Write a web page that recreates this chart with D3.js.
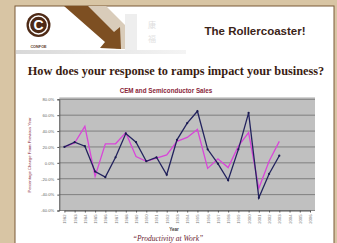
<!DOCTYPE html>
<meta charset="utf-8">
<script src="https://cdn.jsdelivr.net/npm/d3@7"></script>
<style>
  body { margin: 0; background: #d8c5a4; }
  svg { display: block; }
</style>
<div id="chart"></div>
<script>
// data
var years = ["1982","1983","1984","1985","1986","1987","1988","1989","1990","1991","1992","1993",
             "1994","1995","1996","1997","1998","1999","2000","2001","2002","2003","2004","2005","2006"];
var cemSales = [20, 26, 21, -11, -18, 7, 37, 26, 2, 7, -15, 29, 50, 65, 17, -1, -22, 17, 63, -44, -14, 9];
var semiSales = [20, 25, 46, -17, 24, 24, 38, 8, 2, 6, 10, 27, 32, 42, -7, 5, -6, 21, 38, -32, 2, 27];
var yTicks = [80, 60, 40, 20, 0, -20, -40, -60];

var W = 337, H = 243;
var svg = d3.select("#chart").append("svg").attr("width", W).attr("height", H);

// slide panel
svg.append("rect").attr("x", 15).attr("y", 6).attr("width", 319).attr("height", 250)
  .attr("fill", "#fff").attr("stroke", "#7a5a36").attr("stroke-width", 1);

// header decoration
var hdr = svg.append("g");
var grad = svg.append("defs").append("linearGradient").attr("id", "hg");
grad.append("stop").attr("offset", "0%").attr("stop-color", "#d8d8d8");
grad.append("stop").attr("offset", "100%").attr("stop-color", "#f4f4f4");
hdr.append("rect").attr("x", 16).attr("y", 50).attr("width", 170).attr("height", 4).attr("fill", "url(#hg)");
hdr.append("polygon").attr("points", "88,6 106,6 132,32 132,49 116,49").attr("fill", "#d9ccba");
hdr.append("rect").attr("x", 125).attr("y", 14).attr("width", 12).attr("height", 36).attr("fill", "#eeeeee");
hdr.append("polygon").attr("points", "64,6 88,6 114,32 120,27 121,49 100,48 105,42").attr("fill", "#7d4f22");
hdr.append("text").attr("x", 148).attr("y", 28).attr("fill", "#dedede")
  .attr("font-family", "Noto Sans CJK SC").attr("font-size", 8).text("康");
hdr.append("text").attr("x", 148).attr("y", 42).attr("fill", "#e2e2e2")
  .attr("font-family", "Noto Sans CJK SC").attr("font-size", 8).text("福");

// logo
svg.append("circle").attr("cx", 38.5).attr("cy", 25).attr("r", 12).attr("fill", "#4e2a16");
svg.append("circle").attr("cx", 38.5).attr("cy", 25).attr("r", 9).attr("fill", "none")
  .attr("stroke", "#fff").attr("stroke-width", 1.4);
svg.append("text").attr("x", 38.5).attr("y", 30).attr("text-anchor", "middle")
  .attr("font-family", "Liberation Sans, Arial").attr("font-weight", "bold").attr("font-size", 14)
  .attr("fill", "#fff").text("C");
svg.append("text").attr("x", 38.5).attr("y", 48).attr("text-anchor", "middle")
  .attr("font-family", "Liberation Sans, Arial").attr("font-weight", "bold").attr("font-size", 3.8)
  .attr("fill", "#5a3a26").text("CONFOE");

svg.append("text").attr("x", 255).attr("y", 35).attr("text-anchor", "middle")
  .attr("font-family", "Liberation Sans, Arial").attr("font-weight", "bold").attr("font-size", 11.5)
  .attr("fill", "#3b2418").text("The Rollercoaster!");

svg.append("text").attr("x", 176).attr("y", 75).attr("text-anchor", "middle")
  .attr("font-family", "Liberation Serif, Times New Roman").attr("font-weight", "bold").attr("font-size", 12.3)
  .attr("fill", "#3a1c12").text("How does your response to ramps impact your business?");

svg.append("text").attr("x", 166).attr("y", 92.5).attr("text-anchor", "middle")
  .attr("font-family", "Liberation Sans, Arial").attr("font-weight", "bold").attr("font-size", 6.3)
  .attr("fill", "#8a1f3a").text("CEM and Semiconductor Sales");

// chart
var x = d3.scalePoint().domain(years).range([64.4, 310]);
var y = d3.scaleLinear().domain([-60, 80]).range([210.5, 99.3]);

svg.append("rect").attr("x", 59.3).attr("y", y(80) - 2).attr("width", 255.7).attr("height", y(-60) - y(80) + 2)
  .attr("fill", "#c0c0c0");

svg.append("g").selectAll("line").data(yTicks).enter().append("line")
  .attr("x1", 59.3).attr("x2", 315).attr("y1", function(d) { return y(d); }).attr("y2", function(d) { return y(d); })
  .attr("stroke", "#6e6e6e").attr("stroke-width", 0.8);

var yAxis = svg.append("g").attr("transform", "translate(59.3,0)")
  .call(d3.axisLeft(y).tickValues(yTicks).tickSize(2).tickFormat(function(d) { return d.toFixed(1) + "%"; }));
yAxis.selectAll("text").attr("font-size", 4.2).attr("font-family", "Liberation Sans, Arial").attr("fill", "#666");
yAxis.select(".domain").attr("stroke", "#555");
yAxis.selectAll(".tick line").attr("stroke", "#555");

var xAxis = svg.append("g").attr("transform", "translate(0," + y(-60) + ")")
  .call(d3.axisBottom(x).tickSize(2).tickSizeOuter(0));
xAxis.select(".domain").attr("stroke", "#555");
xAxis.selectAll(".tick line").attr("stroke", "#555");
xAxis.selectAll("text").attr("font-size", 4.2).attr("font-family", "Liberation Sans, Arial").attr("fill", "#777")
  .attr("transform", "rotate(-90)").attr("text-anchor", "end").attr("x", -4).attr("y", 0).attr("dy", "0.35em");

svg.append("text").attr("transform", "translate(31,155) rotate(-90)").attr("text-anchor", "middle")
  .attr("font-family", "Liberation Sans, Arial").attr("font-size", 4.2).attr("fill", "#8a1f3a")
  .text("Percentage Change From Previous Year");

svg.append("text").attr("x", 174).attr("y", 231).attr("text-anchor", "middle")
  .attr("font-family", "Liberation Sans, Arial").attr("font-weight", "bold").attr("font-size", 4.6)
  .attr("fill", "#444").text("Year");

svg.append("text").attr("x", 168).attr("y", 241).attr("text-anchor", "middle")
  .attr("font-family", "Liberation Serif, Times New Roman").attr("font-style", "italic").attr("font-size", 7.5)
  .attr("fill", "#6a1c30").text("\u201CProductivity at Work\u201D");

var line = d3.line().x(function(d, i) { return x(years[i]); }).y(function(d) { return y(d); });

svg.append("path").datum(semiSales).attr("d", line).attr("fill", "none")
  .attr("stroke", "#d846d8").attr("stroke-width", 1.3);
svg.append("path").datum(cemSales).attr("d", line).attr("fill", "none")
  .attr("stroke", "#23235e").attr("stroke-width", 1.3);
svg.append("g").selectAll("circle").data(cemSales).enter().append("circle")
  .attr("cx", function(d, i) { return x(years[i]); }).attr("cy", function(d) { return y(d); })
  .attr("r", 1.1).attr("fill", "#1a1a50");
</script>
